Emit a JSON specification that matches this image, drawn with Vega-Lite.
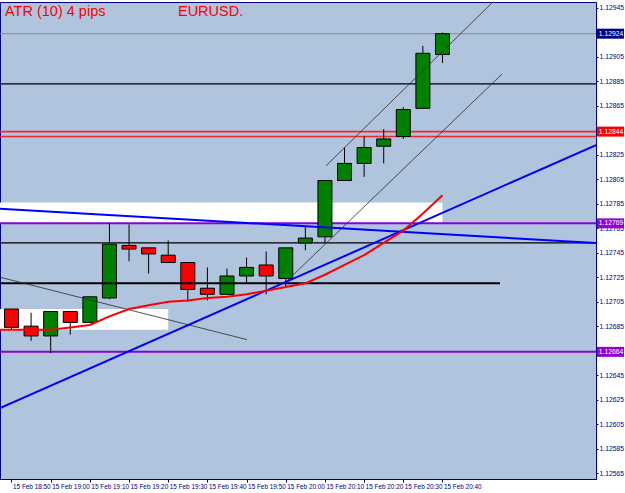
{
  "$schema": "https://vega.github.io/schema/vega-lite/v6.json",
  "width": 596,
  "height": 477,
  "autosize": {"type": "none"},
  "padding": {"left": 0, "top": 2, "right": 29, "bottom": 14},
  "background": "white",
  "view": {"fill": "#B0C4DE", "stroke": "#000080", "strokeWidth": 1},
  "title": {
    "text": "ATR (10) 4 pips\u00a0\u00a0\u00a0\u00a0\u00a0\u00a0\u00a0\u00a0\u00a0\u00a0\u00a0\u00a0\u00a0\u00a0\u00a0\u00a0\u00a0\u00a0EURUSD.",
    "anchor": "start", "frame": "group", "orient": "top", "baseline": "top",
    "offset": 0, "dx": 5, "dy": 17,
    "color": "#FF0000", "font": "Liberation Sans", "fontSize": 14.5, "fontWeight": "normal"
  },
  "config": {
    "axis": {
      "labelFont": "Liberation Sans",
      "labelColor": "#000080",
      "tickColor": "#000080",
      "domainColor": "#000080",
      "grid": false,
      "labelOverlap": false,
      "labelBound": false
    }
  },
  "datasets": {
    "candles": [
      {"t": "2019-02-15T18:50:00Z", "o": 1.12699, "h": 1.12699, "l": 1.12682, "c": 1.12684},
      {"t": "2019-02-15T18:55:00Z", "o": 1.12685, "h": 1.12696, "l": 1.12673, "c": 1.12677},
      {"t": "2019-02-15T19:00:00Z", "o": 1.12677, "h": 1.12697, "l": 1.12663, "c": 1.12697},
      {"t": "2019-02-15T19:05:00Z", "o": 1.12697, "h": 1.12697, "l": 1.12678, "c": 1.12688},
      {"t": "2019-02-15T19:10:00Z", "o": 1.12688, "h": 1.12709, "l": 1.12688, "c": 1.12709},
      {"t": "2019-02-15T19:15:00Z", "o": 1.12708, "h": 1.12769, "l": 1.12707, "c": 1.12752},
      {"t": "2019-02-15T19:20:00Z", "o": 1.12751, "h": 1.12768, "l": 1.12738, "c": 1.12748},
      {"t": "2019-02-15T19:25:00Z", "o": 1.12749, "h": 1.12749, "l": 1.12728, "c": 1.12744},
      {"t": "2019-02-15T19:30:00Z", "o": 1.12743, "h": 1.12755, "l": 1.12737, "c": 1.12737},
      {"t": "2019-02-15T19:35:00Z", "o": 1.12737, "h": 1.12737, "l": 1.12705, "c": 1.12715},
      {"t": "2019-02-15T19:40:00Z", "o": 1.12716, "h": 1.12733, "l": 1.12706, "c": 1.12711},
      {"t": "2019-02-15T19:45:00Z", "o": 1.12711, "h": 1.12732, "l": 1.12711, "c": 1.12726},
      {"t": "2019-02-15T19:50:00Z", "o": 1.12726, "h": 1.12741, "l": 1.12720, "c": 1.12733},
      {"t": "2019-02-15T19:55:00Z", "o": 1.12735, "h": 1.12746, "l": 1.12711, "c": 1.12726},
      {"t": "2019-02-15T20:00:00Z", "o": 1.12724, "h": 1.12749, "l": 1.12717, "c": 1.12749},
      {"t": "2019-02-15T20:05:00Z", "o": 1.12753, "h": 1.12766, "l": 1.12747, "c": 1.12757},
      {"t": "2019-02-15T20:10:00Z", "o": 1.12758, "h": 1.12804, "l": 1.12753, "c": 1.12804},
      {"t": "2019-02-15T20:15:00Z", "o": 1.12804, "h": 1.12831, "l": 1.12804, "c": 1.12818},
      {"t": "2019-02-15T20:20:00Z", "o": 1.12818, "h": 1.12840, "l": 1.12807, "c": 1.12831},
      {"t": "2019-02-15T20:25:00Z", "o": 1.12832, "h": 1.12846, "l": 1.12818, "c": 1.12838},
      {"t": "2019-02-15T20:30:00Z", "o": 1.12840, "h": 1.12864, "l": 1.12838, "c": 1.12862},
      {"t": "2019-02-15T20:35:00Z", "o": 1.12863, "h": 1.12914, "l": 1.12863, "c": 1.12908},
      {"t": "2019-02-15T20:40:00Z", "o": 1.12907, "h": 1.12925, "l": 1.12900, "c": 1.12924}
    ],
    "ma": [
      {"t": "2019-02-15T18:45:00Z", "v": 1.12682},
      {"t": "2019-02-15T18:50:00Z", "v": 1.12682},
      {"t": "2019-02-15T18:55:00Z", "v": 1.12682},
      {"t": "2019-02-15T19:00:00Z", "v": 1.12682},
      {"t": "2019-02-15T19:05:00Z", "v": 1.12684},
      {"t": "2019-02-15T19:10:00Z", "v": 1.12686},
      {"t": "2019-02-15T19:15:00Z", "v": 1.12693},
      {"t": "2019-02-15T19:20:00Z", "v": 1.12699},
      {"t": "2019-02-15T19:25:00Z", "v": 1.12702},
      {"t": "2019-02-15T19:30:00Z", "v": 1.12705},
      {"t": "2019-02-15T19:35:00Z", "v": 1.12706},
      {"t": "2019-02-15T19:40:00Z", "v": 1.12708},
      {"t": "2019-02-15T19:45:00Z", "v": 1.12709},
      {"t": "2019-02-15T19:50:00Z", "v": 1.12711},
      {"t": "2019-02-15T19:55:00Z", "v": 1.12714},
      {"t": "2019-02-15T20:00:00Z", "v": 1.12717},
      {"t": "2019-02-15T20:05:00Z", "v": 1.12720},
      {"t": "2019-02-15T20:10:00Z", "v": 1.12727},
      {"t": "2019-02-15T20:15:00Z", "v": 1.12735},
      {"t": "2019-02-15T20:20:00Z", "v": 1.12743},
      {"t": "2019-02-15T20:25:00Z", "v": 1.12753},
      {"t": "2019-02-15T20:30:00Z", "v": 1.12763},
      {"t": "2019-02-15T20:35:00Z", "v": 1.12777},
      {"t": "2019-02-15T20:40:00Z", "v": 1.12792}
    ],
    "levels": [
      {"p": 1.12924, "kind": "gray"},
      {"p": 1.12883, "kind": "black"},
      {"p": 1.12844, "kind": "red"},
      {"p": 1.12840, "kind": "red"},
      {"p": 1.12769, "kind": "purple"},
      {"p": 1.12753, "kind": "black"},
      {"p": 1.12664, "kind": "purple"}
    ],
    "zones": [
      {"t": "2019-02-15T18:47:04Z", "t2": "2019-02-15T20:40:00Z", "p": 1.12769, "p2": 1.12786},
      {"t": "2019-02-15T18:47:04Z", "t2": "2019-02-15T19:30:00Z", "p": 1.12682, "p2": 1.12699}
    ],
    "blacklines": [
      {"t": "2019-02-15T18:47:04Z", "p": 1.12720, "t2": "2019-02-15T20:54:40Z", "p2": 1.12720}
    ],
    "thinlines": [
      {"t": "2019-02-15T18:47:04Z", "p": 1.12725, "t2": "2019-02-15T19:50:06Z", "p2": 1.12674},
      {"t": "2019-02-15T20:10:16Z", "p": 1.12816, "t2": "2019-02-15T20:52:54Z", "p2": 1.12950},
      {"t": "2019-02-15T20:00:19Z", "p": 1.12722, "t2": "2019-02-15T20:55:12Z", "p2": 1.12891}
    ],
    "bluelines": [
      {"t": "2019-02-15T18:47:04Z", "p": 1.12618, "t2": "2019-02-15T21:19:11Z", "p2": 1.12833},
      {"t": "2019-02-15T18:47:04Z", "p": 1.12781, "t2": "2019-02-15T21:19:11Z", "p2": 1.12753}
    ],
    "tags": [
      {"p": 1.12924, "kind": "navy"},
      {"p": 1.12844, "kind": "red"},
      {"p": 1.12769, "kind": "purple"},
      {"p": 1.12664, "kind": "purple"}
    ]
  },
  "layer": [
    {
      "data": {"name": "zones"},
      "mark": {"type": "rect", "fill": "#FFFFFF", "clip": true},
      "encoding": {
        "x": {"field": "t", "type": "temporal",
          "scale": {"type": "utc", "padding": 0, "domain": [{"year": 2019, "month": 2, "date": 15, "hours": 18, "minutes": 47, "seconds": 4, "utc": true}, {"year": 2019, "month": 2, "date": 15, "hours": 21, "minutes": 19, "seconds": 11, "utc": true}]},
          "axis": {
            "orient": "bottom",
            "title": null,
            "tickCount": 40,
            "values": [
              {"year": 2019, "month": 2, "date": 15, "hours": 18, "minutes": 50, "utc": true},
              {"year": 2019, "month": 2, "date": 15, "hours": 19, "minutes": 0, "utc": true},
              {"year": 2019, "month": 2, "date": 15, "hours": 19, "minutes": 10, "utc": true},
              {"year": 2019, "month": 2, "date": 15, "hours": 19, "minutes": 20, "utc": true},
              {"year": 2019, "month": 2, "date": 15, "hours": 19, "minutes": 30, "utc": true},
              {"year": 2019, "month": 2, "date": 15, "hours": 19, "minutes": 40, "utc": true},
              {"year": 2019, "month": 2, "date": 15, "hours": 19, "minutes": 50, "utc": true},
              {"year": 2019, "month": 2, "date": 15, "hours": 20, "minutes": 0, "utc": true},
              {"year": 2019, "month": 2, "date": 15, "hours": 20, "minutes": 10, "utc": true},
              {"year": 2019, "month": 2, "date": 15, "hours": 20, "minutes": 20, "utc": true},
              {"year": 2019, "month": 2, "date": 15, "hours": 20, "minutes": 30, "utc": true},
              {"year": 2019, "month": 2, "date": 15, "hours": 20, "minutes": 40, "utc": true}
            ],
            "labelExpr": "utcFormat(datum.value, '%d %b %H:%M')",
            "labelAlign": "left", "labelBaseline": "top", "labelPadding": 1, "labelAngle": 0,
            "labelFlush": false, "labelOverlap": false, "labelFontSize": 6.4, "tickSize": 3, "labelOffset": 1
          }
        },
        "x2": {"field": "t2"},
        "y": {"field": "p", "type": "quantitative",
          "scale": {"domain": [1.125601, 1.129499], "nice": false, "zero": false},
          "axis": {
            "orient": "right",
            "title": null,
            "tickCount": 40,
            "values": [1.12945, 1.12905, 1.12885, 1.12865, 1.12825, 1.12805, 1.12785, 1.12765, 1.12745, 1.12725, 1.12705, 1.12685, 1.12645, 1.12625, 1.12605, 1.12585, 1.12565],
            "format": ".5f", "labelPadding": 1, "labelBaseline": "middle", "labelOverlap": false,
            "labelFontSize": 6.8, "tickSize": 2
          }
        },
        "y2": {"field": "p2"}
      }
    },
    {
      "data": {"name": "levels"},
      "mark": {"type": "rule", "clip": true},
      "encoding": {
        "y": {"field": "p", "type": "quantitative"},
        "color": {"field": "kind", "type": "nominal", "legend": null,
          "scale": {"domain": ["gray", "black", "red", "purple"], "range": ["#8C8C8C", "#000000", "#F0282D", "#8A00D4"]}},
        "strokeWidth": {"field": "kind", "type": "nominal", "legend": null,
          "scale": {"domain": ["gray", "black", "red", "purple"], "range": [1, 2, 2, 1]}}
      }
    },
    {
      "data": {"name": "candles"},
      "mark": {"type": "rule", "color": "#000000", "strokeWidth": 1},
      "encoding": {
        "x": {"field": "t", "type": "temporal"},
        "y": {"field": "l", "type": "quantitative"},
        "y2": {"field": "h"}
      }
    },
    {
      "data": {"name": "candles"},
      "mark": {"type": "bar", "width": 14, "stroke": "#000000", "strokeWidth": 1},
      "encoding": {
        "x": {"field": "t", "type": "temporal"},
        "y": {"field": "o", "type": "quantitative"},
        "y2": {"field": "c"},
        "fill": {"condition": {"test": "datum.c >= datum.o", "value": "#008000"}, "value": "#FF0000"}
      }
    },
    {
      "data": {"name": "blacklines"},
      "mark": {"type": "rule", "clip": true, "color": "#000000", "strokeWidth": 2},
      "encoding": {
        "x": {"field": "t", "type": "temporal"},
        "x2": {"field": "t2"},
        "y": {"field": "p", "type": "quantitative"},
        "y2": {"field": "p2"}
      }
    },
    {
      "data": {"name": "thinlines"},
      "mark": {"type": "rule", "clip": true, "color": "#2A2A2A", "strokeWidth": 0.8},
      "encoding": {
        "x": {"field": "t", "type": "temporal"},
        "x2": {"field": "t2"},
        "y": {"field": "p", "type": "quantitative"},
        "y2": {"field": "p2"}
      }
    },
    {
      "data": {"name": "bluelines"},
      "mark": {"type": "rule", "clip": true, "color": "#0000FF", "strokeWidth": 2},
      "encoding": {
        "x": {"field": "t", "type": "temporal"},
        "x2": {"field": "t2"},
        "y": {"field": "p", "type": "quantitative"},
        "y2": {"field": "p2"}
      }
    },
    {
      "data": {"name": "ma"},
      "mark": {"type": "line", "color": "#FF0000", "strokeWidth": 2, "clip": true},
      "encoding": {
        "x": {"field": "t", "type": "temporal"},
        "y": {"field": "v", "type": "quantitative"}
      }
    },
    {
      "data": {"name": "tags"},
      "mark": {"type": "rect", "clip": false, "xOffset": 1, "x2Offset": 28, "yOffset": -5, "y2Offset": 5},
      "encoding": {
        "x": {"value": "width"},
        "x2": {"value": "width"},
        "y": {"field": "p", "type": "quantitative"},
        "y2": {"field": "p"},
        "color": {"field": "kind", "type": "nominal", "legend": null,
          "scale": {"domain": ["navy", "red", "purple"], "range": ["#000080", "#FF0000", "#9400D3"]}}
      }
    },
    {
      "data": {"name": "tags"},
      "mark": {"type": "text", "clip": false, "dx": 15, "align": "center", "baseline": "middle", "color": "#FFFFFF", "font": "Liberation Sans", "fontSize": 6.8},
      "encoding": {
        "x": {"value": "width"},
        "y": {"field": "p", "type": "quantitative"},
        "text": {"field": "p", "type": "quantitative", "format": ".5f"}
      }
    }
  ],
  "resolve": {"scale": {"color": "independent", "strokeWidth": "independent"}}
}
